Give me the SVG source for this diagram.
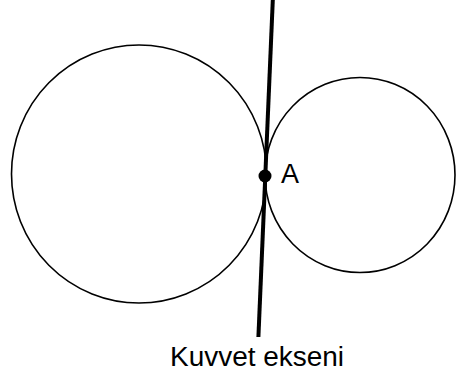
<svg xmlns="http://www.w3.org/2000/svg" width="456" height="376" viewBox="0 0 456 376">
<style>
.c{fill:none;stroke:#000;stroke-width:1.6}
.t{font-family:"Liberation Sans",Arial,sans-serif;fill:#000}
</style>
<rect width="456" height="376" fill="#fff"/>
<g id="circle-large"><ellipse class="c" cx="139" cy="174" rx="127.5" ry="129"/></g>
<g id="circle-small"><ellipse class="c" cx="360" cy="175" rx="95" ry="97.5"/></g>
<g id="connectors"><line x1="272.8" y1="0" x2="258.4" y2="337" stroke="#000" stroke-width="4"/></g>
<g id="point-A"><circle cx="265" cy="176" r="6.5" fill="#000"/><text class="t" x="281" y="182.5" font-size="27">A</text></g>
<g id="label"><text class="t" x="170" y="366" font-size="27.5" textLength="174" lengthAdjust="spacingAndGlyphs">Kuvvet ekseni</text></g>
</svg>
